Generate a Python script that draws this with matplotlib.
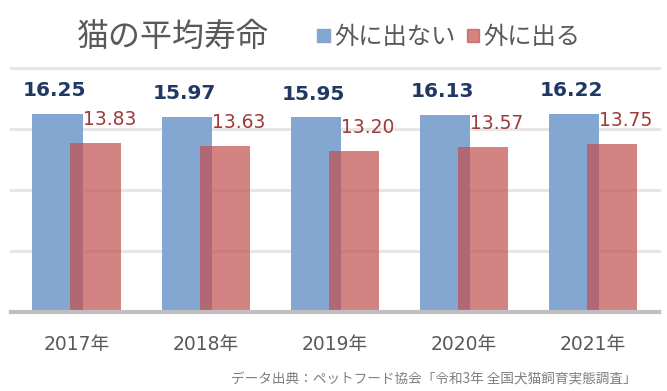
import matplotlib
matplotlib.use("Agg")
import matplotlib.pyplot as plt
import numpy as np

years = ["2017年", "2018年", "2019年", "2020年", "2021年"]
indoor = [16.25, 15.97, 15.95, 16.13, 16.22]
outdoor = [13.83, 13.63, 13.20, 13.57, 13.75]
series_names = ["外に出ない", "外に出る"]
title = "猫の平均寿命"
source = "データ出典：ペットフード協会「令和3年 全国犬猫飼育実態調査」"
grid_values = [5, 10, 15, 20]

JP = ["Noto Sans CJK JP", "DejaVu Sans"]
MIX = ["DejaVu Sans", "Noto Sans CJK JP"]

blue = "#84A7D1"
red = (195/255, 78/255, 78/255)

fig = plt.figure(figsize=(6.67, 3.91), dpi=100)
ax = fig.add_axes([0.016, 0.202, 0.972, 0.627])

x = np.arange(len(years))
w = 0.388
off = 0.147
ax.bar(x - off, indoor, w, color=blue, zorder=2)
ax.bar(x + off, outdoor, w, color=red, alpha=0.7, zorder=3, linewidth=0)

for xi, v in zip(x, indoor):
    ax.annotate(f"{v:.2f}", (xi - off, v), xytext=(-2, 10), textcoords="offset points",
                ha="center", va="bottom", fontsize=14.5, fontweight="bold",
                color="#1F3864", family=MIX)
for xi, v in zip(x, outdoor):
    ax.annotate(f"{v:.2f}", (xi + off, v), xytext=(10, 10), textcoords="offset points",
                ha="center", va="bottom", fontsize=13.5,
                color="#9E3A3A", family=MIX)

ax.set_xlim(-0.51, len(years) - 0.49)
ax.set_ylim(0, 20.1)
for g in grid_values:
    ax.axhline(g, color="#E6E6E6", linewidth=2.2, zorder=1, clip_on=False)
ax.set_yticks([])
ax.tick_params(axis="y", left=False, labelleft=False)
ax.tick_params(axis="x", bottom=False, pad=13)
ax.set_xticks(x)
ax.set_xticklabels(years, fontsize=13.5, color="#595959", family=MIX)
for s in ["top", "left", "right"]:
    ax.spines[s].set_visible(False)
ax.spines["bottom"].set_color("#BFBFBF")
ax.spines["bottom"].set_linewidth(3)
ax.spines["bottom"].set_zorder(5)

fig.text(0.115, 0.905, title, fontsize=23, color="#595959", family=JP,
         ha="left", va="center")
# legend
handles = [plt.Rectangle((0, 0), 1, 1, color=blue),
           plt.Rectangle((0, 0), 1, 1, color=red, alpha=0.7)]
leg = fig.legend(handles, series_names, loc="center left", bbox_to_anchor=(0.476, 0.905),
                 ncol=2, frameon=False, prop={"family": JP, "size": 17.5},
                 handlelength=0.5, handleheight=0.5, handletextpad=0.2,
                 columnspacing=0.45, borderaxespad=0, borderpad=0)
for t in leg.get_texts():
    t.set_color("#595959")

fig.text(0.955, 0.03, source, fontsize=9.8, color="#7F7F7F", family=JP,
         ha="right", va="center")

fig.savefig("out.png", dpi=100, facecolor="white")
